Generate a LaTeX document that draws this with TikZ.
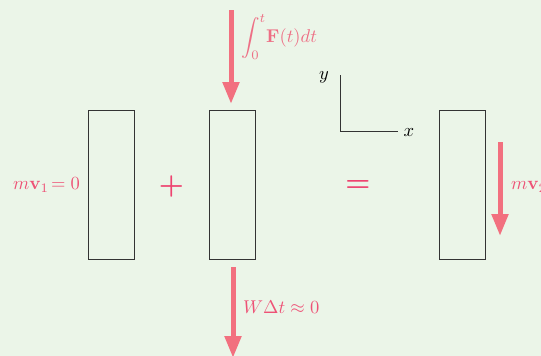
\documentclass[tikz,border=0pt]{standalone}
\usepackage{graphicx}
\usetikzlibrary{arrows.meta}
\definecolor{bg}{HTML}{EBF5E8}
\definecolor{arr}{HTML}{F2707F}
\definecolor{txt}{HTML}{EE5276}
\definecolor{txtl}{HTML}{EE6F85}
\definecolor{sym}{HTML}{EE4470}
\definecolor{edge}{HTML}{333333}
\newcommand{\mylbl}[1]{\scalebox{1.85}{#1}}
\newcommand{\myop}[1]{\scalebox{2.8}{#1}}
\begin{document}
\begin{tikzpicture}[x=1pt,y=-1pt,
  body/.style={draw=edge,line width=0.9pt,minimum width=46pt,minimum height=149pt,inner sep=0pt},
  force/.style={draw=arr,line width=5pt,-{Triangle[length=22pt,width=16pt]}},
  lbl/.style={text=txt,inner sep=0pt},
  opsym/.style={text=sym,inner sep=0pt},
  axlbl/.style={text=black,inner sep=0pt}]
\fill[bg] (0,0) rectangle (541,356);
\useasboundingbox (0,0) rectangle (541,356);
\clip (0,0) rectangle (541,356);
% bodies
\node[body] (b1) at (111,184.5) {};
\node[body] (b2) at (232.5,184.5) {};
\node[body] (b3) at (462.5,184.5) {};
% operators
\node[opsym] (plus) at (171.5,186) {\myop{\bfseries +}};
\node[opsym] (eq) at (358,186) {\myop{\bfseries =}};
% labels
\node[lbl,anchor=east] (mv1) at (80,185) {\mylbl{$m\mathbf{v}_1\!=0$}};
% top force
\coordinate (t0) at (231,10);
\coordinate (t1) at (231,104);
\draw[force] (t0) -- (t1);
\node[lbl,text=txtl,anchor=west] (imp) at (241,37) {\mylbl{$\displaystyle\int_0^t\! \mathbf{F}(t)dt$}};
% bottom force
\coordinate (w0) at (233,267);
\coordinate (w1) at (233,358);
\draw[force] (w0) -- (w1);
\node[lbl,anchor=west] (wdt) at (243,307) {\mylbl{$W\Delta t\approx 0$}};
% right force
\coordinate (m0) at (500,142);
\coordinate (m1) at (500,236);
\draw[force] (m0) -- (m1);
\node[lbl,anchor=west] (mv2) at (511,187) {\mylbl{$m\mathbf{v}_2$}};
% axes
\coordinate (o) at (340,131);
\coordinate (ay) at (340,75);
\coordinate (ax) at (398,131);
\draw[edge,line width=0.9pt] (ay) -- (o) -- (ax);
\node[axlbl] (ylab) at (324,77) {\mylbl{$y$}};
\node[axlbl] (xlab) at (409,133) {\mylbl{$x$}};
\end{tikzpicture}
\end{document}
